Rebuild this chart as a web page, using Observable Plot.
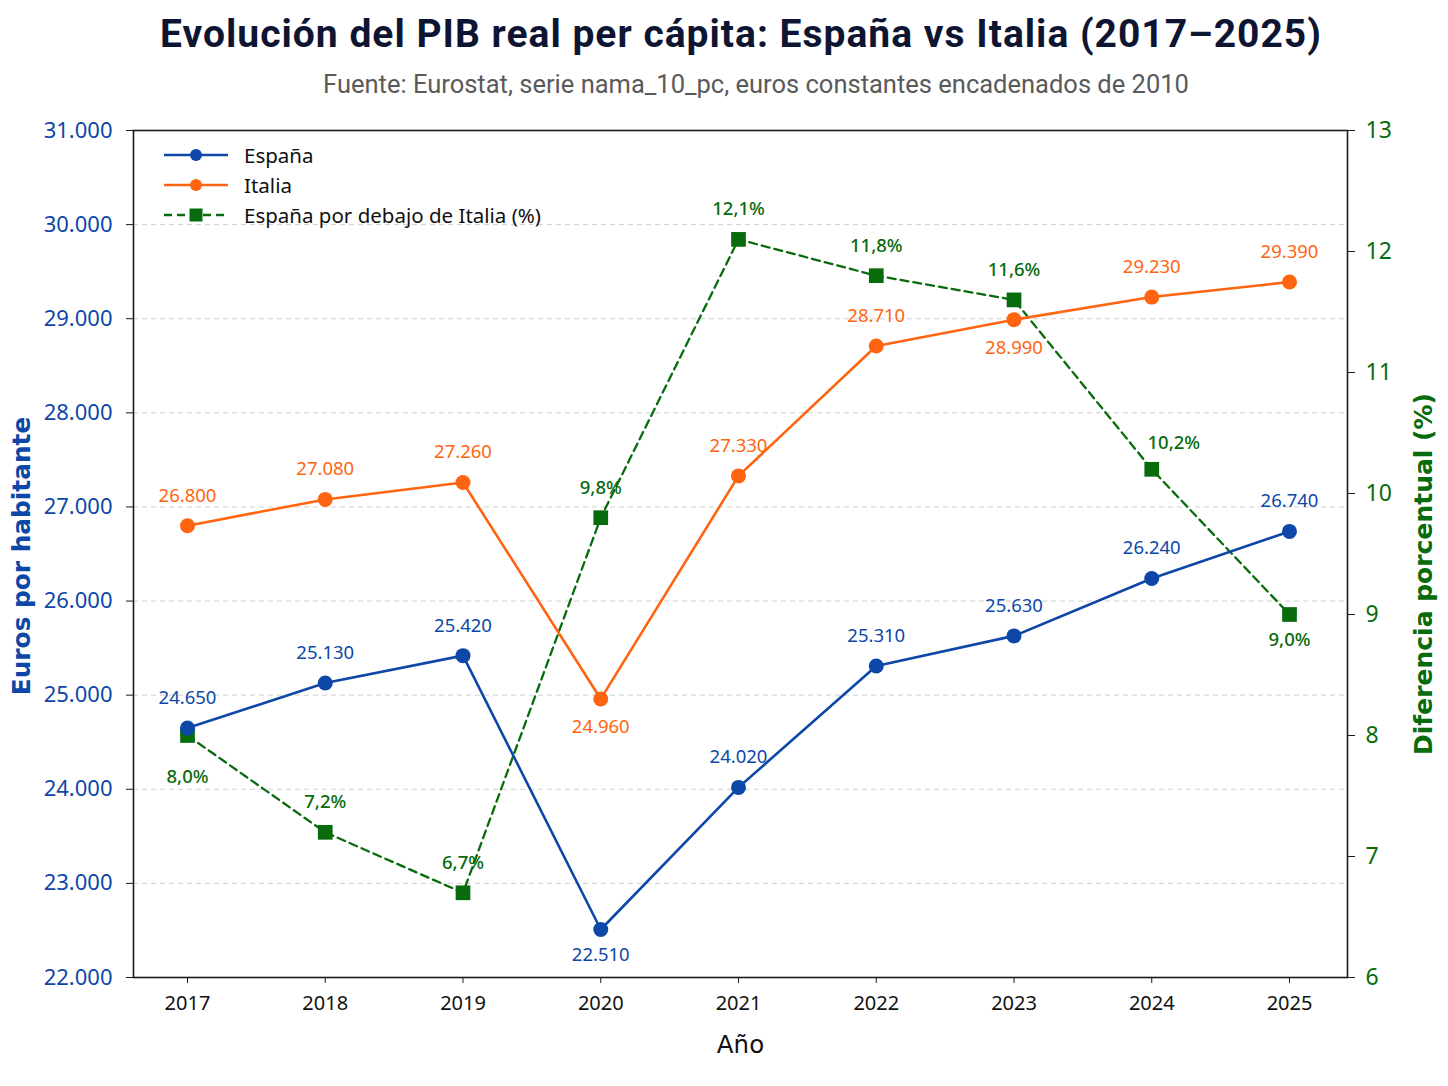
<!DOCTYPE html>
<html>
<head>
<meta charset="utf-8">
<script src="https://cdn.jsdelivr.net/npm/d3@7"></script>
<script src="https://cdn.jsdelivr.net/npm/@observablehq/plot@0.6"></script>
<style>
  html, body { margin: 0; padding: 0; background: #ffffff; }
  #wrap { position: relative; width: 1448px; height: 1086px; overflow: hidden; }
  #header { position: relative; width: 1448px; height: 100px; }
  #title { position: absolute; left: 17px; width: 1448px; top: 10px; text-align: center;
    font-family: Roboto, "Noto Sans", sans-serif; letter-spacing: 1px;
    font-weight: 700; font-size: 39px; color: #0e1533; line-height: 48px; }
  #subtitle { position: absolute; left: 32px; width: 1448px; top: 69px; text-align: center;
    font-family: Roboto, "Noto Sans", sans-serif; font-size: 25.5px; color: #5a5a5a; line-height: 30px; }
  #legend { position: absolute; left: 163px; top: 140px; font-family: "Noto Sans", sans-serif; font-stretch: condensed;
    font-size: 20.5px; color: #111; }
  .lg { display: flex; align-items: center; height: 30px; }
  .lg svg { margin-right: 15px; }
  #chart svg text { font-stretch: condensed; }
  #chart svg .axtitle text { font-stretch: normal; }
</style>
</head>
<body>
<div id="wrap">
  <div id="header">
    <div id="title">Evolución del PIB real per cápita: España vs Italia (2017–2025)</div>
    <div id="subtitle">Fuente: Eurostat, serie nama_10_pc, euros constantes encadenados de 2010</div>
  </div>
  <div id="chart"></div>
  <div id="legend"></div>
</div>
<script>
// ---- Data ----
const years = [2017, 2018, 2019, 2020, 2021, 2022, 2023, 2024, 2025];
const espana = [24650, 25130, 25420, 22510, 24020, 25310, 25630, 26240, 26740];
const italia = [26800, 27080, 27260, 24960, 27330, 28710, 28990, 29230, 29390];
const diferencia = [8.0, 7.2, 6.7, 9.8, 12.1, 11.8, 11.6, 10.2, 9.0];
const leftTicks = [22000, 23000, 24000, 25000, 26000, 27000, 28000, 29000, 30000, 31000];
const rightTicks = [6, 7, 8, 9, 10, 11, 12, 13];
const seriesNames = ["España", "Italia", "España por debajo de Italia (%)"];

// label placement (below the point for these years)
const belowEsp = [2020];
const belowIta = [2020, 2023];
const belowDif = [2017, 2025];

// ---- Styles ----
const BLUE = "#0d47a8";
const ORANGE = "#ff6510";
const GREEN = "#086b0c";
const FONT = "'Noto Sans', 'DejaVu Sans', sans-serif";
const AXFONT = "'DejaVu Sans', Verdana, sans-serif";

const locale = d3.formatLocale({decimal: ",", thousands: ".", grouping: [3], currency: ["", "€"]});
const fmtInt = locale.format(",");
const fmtPct = d => locale.format(".1f")(d) + "%";

// right axis (6–13) mapped into left scale (22000–31000)
const L0 = 22000, L1 = 31000, R0 = 6, R1 = 13;
const toLeft = v => L0 + (v - R0) * (L1 - L0) / (R1 - R0);
const fromLeft = v => R0 + (v - L0) * (R1 - R0) / (L1 - L0);

const esp = years.map((year, i) => ({year, value: espana[i]}));
const ita = years.map((year, i) => ({year, value: italia[i]}));
const dif = years.map((year, i) => ({year, value: diferencia[i], y: toLeft(diferencia[i])}));

const plot = Plot.plot({
  width: 1448,
  height: 986,
  marginTop: 30,
  marginBottom: 109,
  marginLeft: 133,
  marginRight: 101,
  style: {fontFamily: FONT, background: "transparent", overflow: "visible"},
  x: {type: "linear", domain: [2016.608, 2025.421], axis: null},
  y: {domain: [L0, L1], axis: null},
  marks: [
    Plot.ruleY(leftTicks.slice(1, -1), {stroke: "#d0d0d0", strokeWidth: 1, strokeDasharray: "5,4"}),
    Plot.frame({stroke: "#1a1a1a", strokeWidth: 1.6}),
    // left axis
    Plot.axisY(leftTicks, {anchor: "left", tickFormat: fmtInt, fill: BLUE, stroke: "#1a1a1a", tickSize: 7, tickPadding: 14, fontSize: 22, label: null}),
    // right axis
    Plot.axisY(rightTicks.map(toLeft), {anchor: "right", tickFormat: d => String(Math.round(fromLeft(d))), fill: GREEN, stroke: "#1a1a1a", tickSize: 7, tickPadding: 11, fontSize: 23, label: null}),
    // bottom axis
    Plot.axisX(years, {anchor: "bottom", tickFormat: d => String(d), fill: "#111", stroke: "#1a1a1a", tickSize: 6, tickPadding: 12, fontSize: 20, label: null}),
    // axis titles
    Plot.text(["Euros por habitante"], {text: d => d, frameAnchor: "left", textAnchor: "middle", dx: -111, dy: 2, rotate: -90, fill: BLUE, fontSize: 24.8, fontFamily: AXFONT, fontWeight: "bold", className: "axtitle"}),
    Plot.text(["Diferencia porcentual (%)"], {text: d => d, frameAnchor: "right", textAnchor: "middle", dx: 76, dy: 20, rotate: -90, fill: GREEN, fontSize: 25, fontFamily: AXFONT, fontWeight: "bold", className: "axtitle"}),
    Plot.text(["Año"], {text: d => d, frameAnchor: "bottom", dy: 75, fill: "#111", fontSize: 24.5, fontFamily: AXFONT, className: "axtitle"}),
    // diferencia (right axis)
    Plot.line(dif, {x: "year", y: "y", stroke: GREEN, strokeWidth: 2.3, strokeDasharray: "8,5"}),
    Plot.dot(dif, {x: "year", y: "y", symbol: "square", r: 8.3, fill: GREEN, stroke: "none"}),
    // Italia
    Plot.line(ita, {x: "year", y: "value", stroke: ORANGE, strokeWidth: 2.6}),
    Plot.dot(ita, {x: "year", y: "value", r: 7.5, fill: ORANGE, stroke: "none"}),
    // España
    Plot.line(esp, {x: "year", y: "value", stroke: BLUE, strokeWidth: 2.6}),
    Plot.dot(esp, {x: "year", y: "value", r: 7.5, fill: BLUE, stroke: "none"}),
    // value labels
    Plot.text(esp.filter(d => !belowEsp.includes(d.year)), {x: "year", y: "value", text: d => fmtInt(d.value), dy: -30, fill: BLUE, fontSize: 18.5}),
    Plot.text(esp.filter(d => belowEsp.includes(d.year)), {x: "year", y: "value", text: d => fmtInt(d.value), dy: 26, fill: BLUE, fontSize: 18.5}),
    Plot.text(ita.filter(d => !belowIta.includes(d.year)), {x: "year", y: "value", text: d => fmtInt(d.value), dy: -30, fill: ORANGE, fontSize: 18.5}),
    Plot.text(ita.filter(d => belowIta.includes(d.year)), {x: "year", y: "value", text: d => fmtInt(d.value), dy: 28, fill: ORANGE, fontSize: 18.5}),
    Plot.text(dif.filter(d => !belowDif.includes(d.year) && d.year !== 2024), {x: "year", y: "y", text: d => fmtPct(d.value), dy: -30, fill: GREEN, fontSize: 18.5, fontWeight: 500}),
    Plot.text(dif.filter(d => d.year === 2024), {x: "year", y: "y", text: d => fmtPct(d.value), dy: -26, dx: 22, fill: GREEN, fontSize: 18.5, fontWeight: 500}),
    Plot.text(dif.filter(d => d.year === 2017), {x: "year", y: "y", text: d => fmtPct(d.value), dy: 42, fill: GREEN, fontSize: 18.5, fontWeight: 500}),
    Plot.text(dif.filter(d => d.year === 2025), {x: "year", y: "y", text: d => fmtPct(d.value), dy: 26, fill: GREEN, fontSize: 18.5, fontWeight: 500})
  ]
});
document.getElementById("chart").appendChild(plot);

// ---- Legend ----
const legendItems = [
  {name: seriesNames[0], color: BLUE, dash: null, symbol: "circle"},
  {name: seriesNames[1], color: ORANGE, dash: null, symbol: "circle"},
  {name: seriesNames[2], color: GREEN, dash: "8,5", symbol: "square"}
];
const legend = d3.select("#legend");
for (const it of legendItems) {
  const row = legend.append("div").attr("class", "lg");
  const s = row.append("svg").attr("width", 66).attr("height", 20);
  s.append("line").attr("x1", 1).attr("x2", 65).attr("y1", 10).attr("y2", 10)
    .attr("stroke", it.color).attr("stroke-width", it.dash ? 2.3 : 2.6)
    .attr("stroke-dasharray", it.dash);
  if (it.symbol === "circle") s.append("circle").attr("cx", 33).attr("cy", 10).attr("r", 6).attr("fill", it.color);
  else s.append("rect").attr("x", 26.5).attr("y", 3.5).attr("width", 13).attr("height", 13).attr("fill", it.color);
  row.append("span").text(it.name);
}
</script>
</body>
</html>
